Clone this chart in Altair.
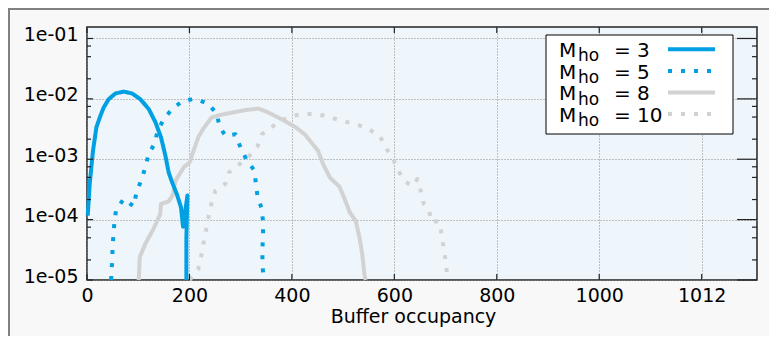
import math
import altair as alt
import pandas as pd

# ---------------- data ----------------
m3_x = [1.4, 5.3, 11.7, 18.4, 26, 32.6, 42.4, 55.5, 71.7, 88, 104, 120.5, 133.6, 144.5,
        153, 159.5, 166, 175.7, 183.5, 187.5, 196, 194, 194]
m3_y = [1.17e-4, 3.9e-4, 1.38e-3, 3.4e-3, 5.2e-3, 7.2e-3, 9.9e-3, 1.23e-2, 1.32e-2, 1.23e-2,
        9.9e-3, 6.8e-3, 4.1e-3, 2.3e-3, 1.15e-3, 6.0e-4, 4.2e-4, 2.6e-4, 1.6e-4, 7.6e-5,
        2.5e-4, 5.0e-5, 1.0e-5]

m5_x = [47, 49, 50, 51.5, 53.5, 56.7, 71.7, 91, 96.5, 105.5, 114, 120.5, 131.6, 138, 150,
        166, 187.5, 212, 236, 252.7, 259, 270, 289.8, 299.5, 311, 326, 329.5, 332.7, 340.5,
        343.7, 343.7, 342.5, 342.5, 344.5]
m5_y = [1.0e-5, 2.0e-5, 3.4e-5, 5.5e-5, 9.1e-5, 1.45e-4, 2.2e-4, 1.66e-4, 2.8e-4, 4.4e-4,
        7.4e-4, 1.23e-3, 1.78e-3, 3.0e-3, 4.6e-3, 6.8e-3, 9.3e-3, 1.0e-2, 8.3e-3, 5.8e-3,
        3.5e-3, 2.45e-3, 2.6e-3, 1.58e-3, 1.0e-3, 6.6e-4, 4.2e-4, 2.5e-4, 1.55e-4, 9.3e-5,
        5.6e-5, 3.4e-5, 2.0e-5, 1.0e-5]

m8_x = [101, 103, 114, 130, 143, 144.5, 159.5, 168, 172.6, 189, 200.5, 208, 218, 228, 243,
        259, 282, 308, 335, 353, 380, 405, 425, 451, 461, 474, 493, 503, 513, 524.7, 532.5,
        537.8, 542, 544]
m8_y = [1.0e-5, 2.4e-5, 4.0e-5, 7.1e-5, 1.23e-4, 1.82e-4, 2.0e-4, 2.6e-4, 4.4e-4, 7.4e-4,
        8.9e-4, 1.38e-3, 2.4e-3, 3.3e-3, 4.9e-3, 5.4e-3, 5.9e-3, 6.5e-3, 6.9e-3, 6.0e-3,
        4.6e-3, 3.5e-3, 2.6e-3, 1.38e-3, 8.3e-4, 5.0e-4, 3.5e-4, 2.2e-4, 1.32e-4, 9.5e-5,
        4.8e-5, 2.5e-5, 1.17e-5, 1.0e-5]

m10_x = [200.5, 217, 223, 228, 233, 237.7, 243, 250.7, 270, 276.7, 298, 317.7, 332.7, 341.7,
         360, 380.8, 399, 421.8, 451, 477, 503, 526, 548.7, 571.5, 583, 597.5, 607, 620, 636,
         645, 651.5, 657.5, 667, 672.5, 685.5, 690, 694, 698, 701.8, 703]
m10_y = [1.0e-5, 1.5e-5, 2.5e-5, 4.3e-5, 7.1e-5, 1.17e-4, 1.86e-4, 3.0e-4, 3.9e-4, 6.0e-4,
         8.3e-4, 1.15e-3, 1.62e-3, 2.6e-3, 3.4e-3, 4.4e-3, 5.2e-3, 5.6e-3, 5.6e-3, 4.9e-3,
         4.2e-3, 3.8e-3, 3.2e-3, 2.45e-3, 1.58e-3, 1.02e-3, 6.6e-4, 4.3e-4, 3.6e-4, 4.7e-4,
         3.0e-4, 1.82e-4, 1.51e-4, 9.1e-5, 9.5e-5, 7.4e-5, 4.5e-5, 2.75e-5, 1.66e-5, 1.0e-5]

series_names = ["M3", "M5", "M8", "M10"]
legend_numbers = ["3", "5", "8", "10"]
series_colors = ["#00a0e2", "#00a0e2", "#d2d2d2", "#d2d2d2"]
series_dash = [[1, 0], [4, 9], [1, 0], [4, 9]]

x_tick_values = [0, 200, 400, 600, 800, 1000, 1200]
x_tick_labels = ["0", "200", "400", "600", "800", "1000", "1012"]
y_tick_values = [1e-5, 1e-4, 1e-3, 1e-2, 1e-1]
y_tick_labels = ["1e-05", "1e-04", "1e-03", "1e-02", "1e-01"]
y_minor_values = [7.5e-2, 5e-2, 2.15e-2, 7.5e-3, 5e-3, 2.15e-3, 7.5e-4, 5e-4, 2.15e-4,
                  7.5e-5, 5e-5, 2.15e-5]

# ---------------- layout ----------------
W, H = 670, 253
PAD = {"left": 79, "top": 19, "right": 12, "bottom": 56}
FONT = "DejaVu Sans"
FS = 19

rows = []
for name, xs, ys in zip(series_names, [m3_x, m5_x, m8_x, m10_x], [m3_y, m5_y, m8_y, m10_y]):
    for i, (a, b) in enumerate(zip(xs, ys)):
        rows.append({"series": name, "x": a, "y": b, "idx": i})
df = pd.DataFrame(rows)

x_expr = "datum.label"
for v, l in reversed(list(zip(x_tick_values, x_tick_labels))):
    x_expr = f"datum.value == {v} ? '{l}' : ({x_expr})"
y_expr = "''"
for v, l in reversed(list(zip(y_tick_values, y_tick_labels))):
    y_expr = f"round(log(datum.value)/LN10) == {round(math.log10(v))} ? '{l}' : ({y_expr})"

x_scale = alt.Scale(domain=[0, 1308], nice=False, zero=False)
y_scale = alt.Scale(type="log", domain=[1e-5, 0.155], nice=False)

X_ENC = alt.X("x:Q", scale=x_scale, axis=alt.Axis(
    values=x_tick_values, labelExpr=x_expr, grid=True, gridColor="#8a8a8a",
    gridDash=[1, 2], gridWidth=1, ticks=False, domain=False, labelFont=FONT,
    labelFontSize=FS, labelColor="#000", labelPadding=6, labelFlush=False,
    title="Buffer occupancy", titleFont=FONT, titleFontSize=FS, titleFontWeight="normal",
    titleColor="#000", titlePadding=2, titleX=326))
Y_ENC = alt.Y("y:Q", scale=y_scale, axis=alt.Axis(
    values=y_tick_values, labelExpr=y_expr, grid=True, gridColor="#8a8a8a",
    gridDash=[1, 2], gridWidth=1, ticks=False, domain=False, labelFont=FONT,
    labelFontSize=FS, labelColor="#000", labelPadding=9, labelOffset=-4,
    labelFlush=False, labelOverlap=False, title=None))

layers = []

# curves (grey first, blue on top)
for k in [2, 3, 0, 1]:
    name = series_names[k]
    layers.append(
        alt.Chart(df).transform_filter(alt.datum.series == name)
        .mark_line(color=series_colors[k], strokeWidth=4, strokeDash=series_dash[k],
                   strokeCap="butt", strokeJoin="round")
        .encode(x=X_ENC, y=Y_ENC, order="idx:Q")
    )

# inward ticks
ymaj = pd.DataFrame({"y": y_tick_values})
ymin = pd.DataFrame({"y": y_minor_values})
xmaj = pd.DataFrame({"x": x_tick_values})
tick_col = "#222"
layers += [
    alt.Chart(ymaj).mark_rule(color=tick_col, strokeWidth=1.2).encode(x=alt.value(0), x2=alt.value(6), y=Y_ENC),
    alt.Chart(ymaj).mark_rule(color=tick_col, strokeWidth=1.2).encode(x=alt.value(W - 20), x2=alt.value(W), y=Y_ENC),
    alt.Chart(ymin).mark_rule(color=tick_col, strokeWidth=1.2).encode(x=alt.value(0), x2=alt.value(4), y=Y_ENC),
    alt.Chart(ymin).mark_rule(color=tick_col, strokeWidth=1.2).encode(x=alt.value(W - 5), x2=alt.value(W), y=Y_ENC),
    alt.Chart(xmaj).mark_rule(color=tick_col, strokeWidth=1.2).encode(x=X_ENC, y=alt.value(H - 6), y2=alt.value(H)),
    alt.Chart(xmaj).mark_rule(color=tick_col, strokeWidth=1.2).encode(x=X_ENC, y=alt.value(0), y2=alt.value(6)),
]

# outer frame (top + left)
one = alt.Data(values=[{}])
layers += [
    alt.Chart(one).mark_rule(color="#808080", strokeWidth=2).encode(
        x=alt.value(-PAD["left"]), x2=alt.value(W + PAD["right"]), y=alt.value(-PAD["top"] + 1)),
    alt.Chart(one).mark_rule(color="#808080", strokeWidth=2).encode(
        x=alt.value(-PAD["left"] + 1), y=alt.value(-PAD["top"]), y2=alt.value(H + PAD["bottom"])),
]

# custom legend
LX0, LX1, LY0, LY1 = 459, 646, 8, 107
layers.append(
    alt.Chart(one).mark_rect(fill="white", stroke="#000", strokeWidth=1).encode(
        x=alt.value(LX0), x2=alt.value(LX1), y=alt.value(LY0), y2=alt.value(LY1))
)
for i, num in enumerate(legend_numbers):
    sy = 22.3 + 21.6 * i
    layers += [
        alt.Chart(one).mark_rule(color=series_colors[i], strokeWidth=4,
                                 strokeDash=series_dash[i], strokeCap="butt").encode(
            x=alt.value(581), x2=alt.value(628), y=alt.value(sy)),
        alt.Chart(one).mark_text(text="M", font=FONT, fontSize=20, align="left",
                                 baseline="alphabetic", color="#000").encode(
            x=alt.value(472), y=alt.value(sy + 7.7)),
        alt.Chart(one).mark_text(text="ho", font=FONT, fontSize=17, align="left",
                                 baseline="alphabetic", color="#000").encode(
            x=alt.value(491), y=alt.value(sy + 12)),
        alt.Chart(one).mark_text(text="= " + num, font=FONT, fontSize=20, align="left",
                                 baseline="alphabetic", color="#000").encode(
            x=alt.value(527), y=alt.value(sy + 7.7)),
    ]

chart = alt.layer(*layers).properties(
    width=W, height=H, padding=PAD,
    autosize=alt.AutoSizeParams(type="none"),
    background="#f8f8f8",
).configure_view(fill="#eef5fb", stroke="#222", strokeWidth=1.5)

chart.save("out.html", embed_options={"renderer": "svg", "actions": False})
